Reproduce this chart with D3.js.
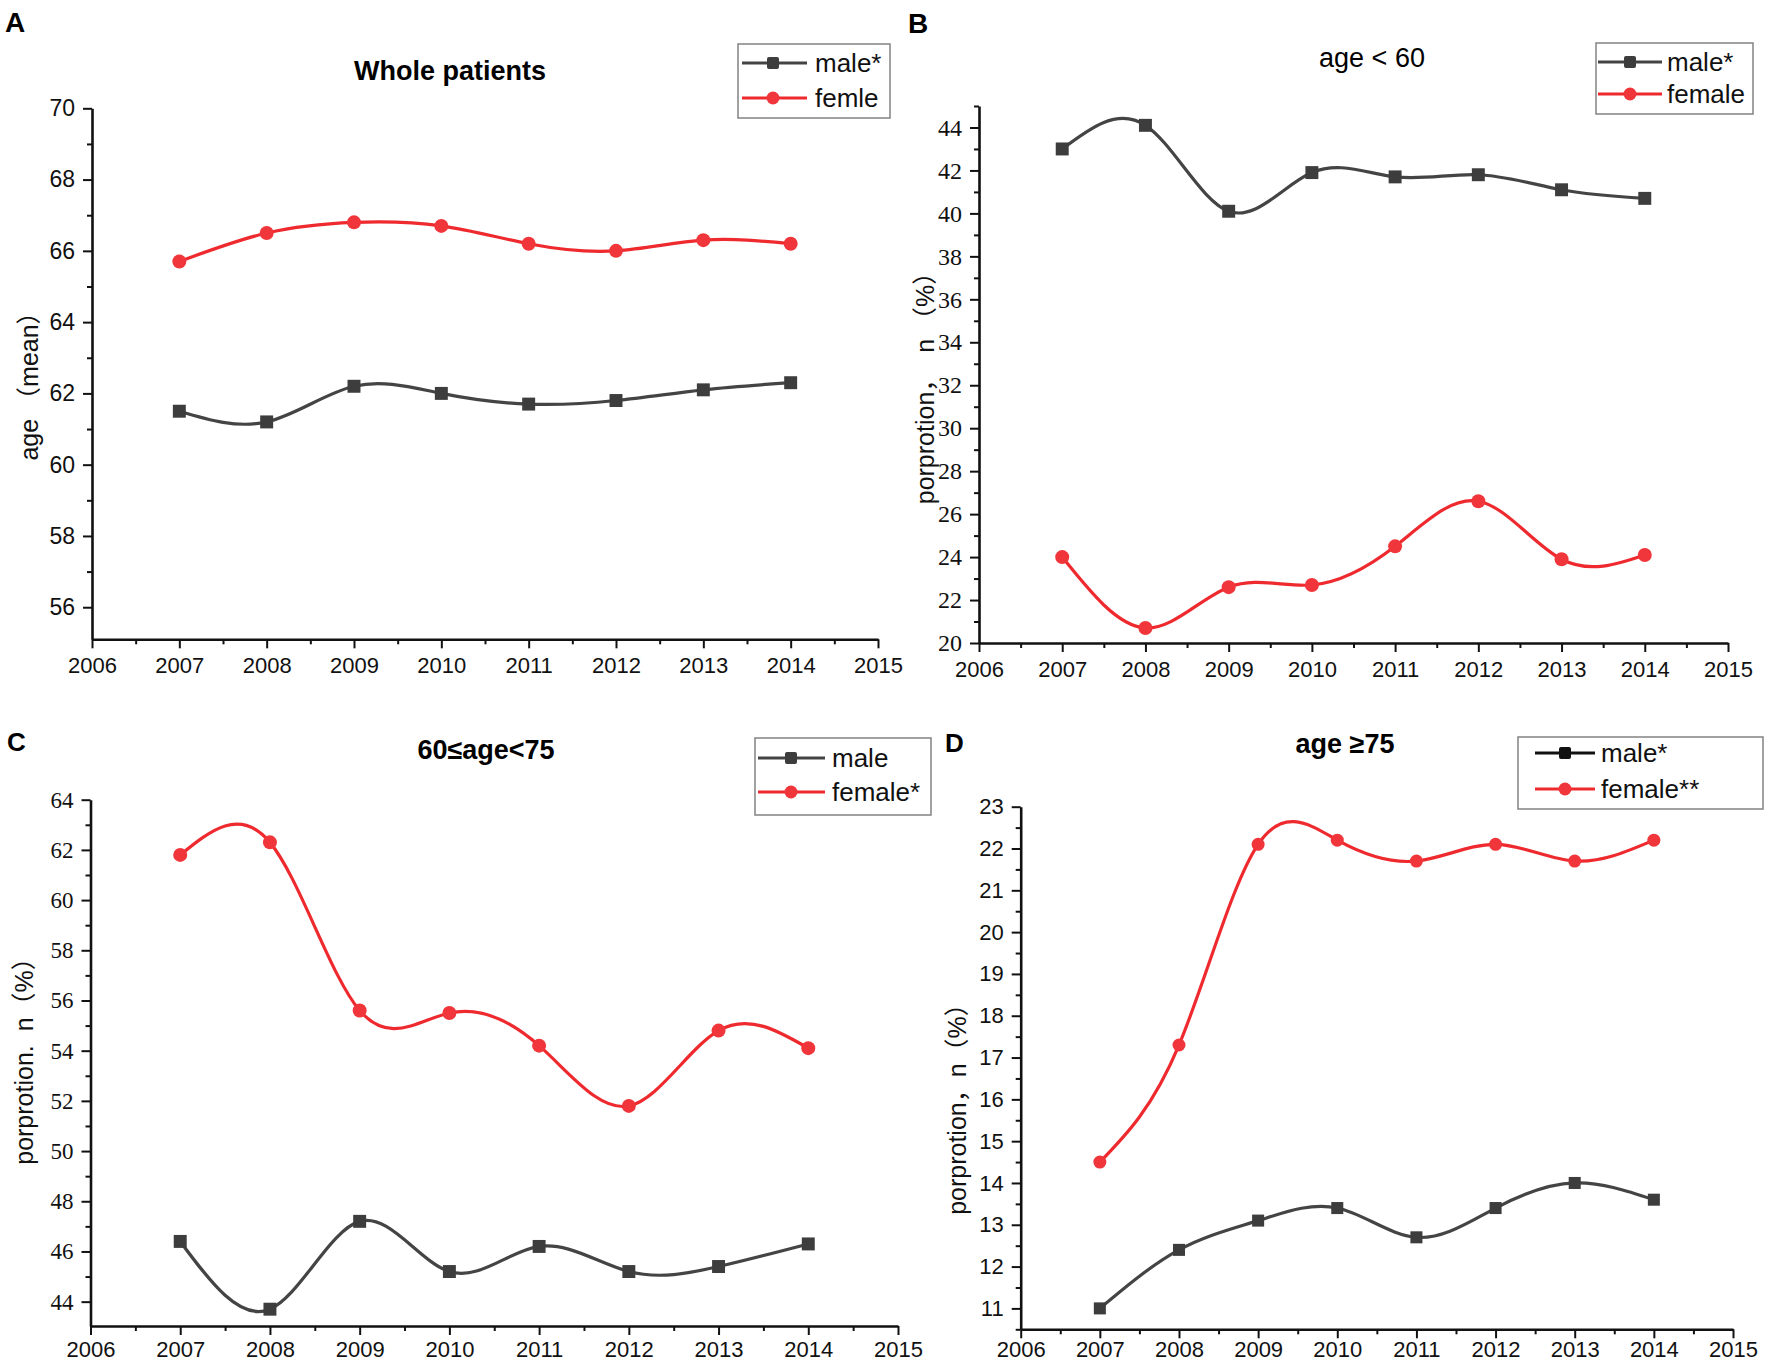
<!DOCTYPE html>
<html>
<head>
<meta charset="utf-8">
<script src="https://cdn.jsdelivr.net/npm/d3@7"></script>
<style>
  body { margin: 0; background: #fff; }
  svg text { white-space: pre; }
</style>
</head>
<body>
<svg id="fig" width="1772" height="1366"></svg>
<script>
// ---- data ----
const years = [2007, 2008, 2009, 2010, 2011, 2012, 2013, 2014];
const xTickYears = [2006, 2007, 2008, 2009, 2010, 2011, 2012, 2013, 2014, 2015];

const aMale = [61.5, 61.2, 62.2, 62.0, 61.7, 61.8, 62.1, 62.3];
const aFemale = [65.7, 66.5, 66.8, 66.7, 66.2, 66.0, 66.3, 66.2];
const aYTicks = [56, 58, 60, 62, 64, 66, 68, 70];

const bMale = [43.0, 44.1, 40.1, 41.9, 41.7, 41.8, 41.1, 40.7];
const bFemale = [24.0, 20.7, 22.6, 22.7, 24.5, 26.6, 23.9, 24.1];
const bYTicks = [20, 22, 24, 26, 28, 30, 32, 34, 36, 38, 40, 42, 44];

const cMale = [46.4, 43.7, 47.2, 45.2, 46.2, 45.2, 45.4, 46.3];
const cFemale = [61.8, 62.3, 55.6, 55.5, 54.2, 51.8, 54.8, 54.1];
const cYTicks = [44, 46, 48, 50, 52, 54, 56, 58, 60, 62, 64];

const dMale = [11.0, 12.4, 13.1, 13.4, 12.7, 13.4, 14.0, 13.6];
const dFemale = [14.5, 17.3, 22.1, 22.2, 21.7, 22.1, 21.7, 22.2];
const dYTicks = [11, 12, 13, 14, 15, 16, 17, 18, 19, 20, 21, 22, 23];

// ---- styles ----
const SANS = "'Liberation Sans', Arial, 'Noto Sans CJK SC', sans-serif";
const SERIF = "'Liberation Serif', 'Times New Roman', serif";
const MALE_COL = "#444444";
const FEMALE_COL = "#ee2a2f";

// layout of each panel (positions only, values come from the arrays above)
const panels = [
  {
    letter: "A", letterPos: [5, 32], letterSize: 28,
    title: "Whole patients", titleBold: true, titlePos: [450, 80],
    xRange: [92, 878], yDomain: [55.1, 70], yRange: [639.3, 108.3], xPad: 9,
    yTicks: aYTicks, yMinor: 1, yFont: SANS, yFontSize: 23,
    yTitle: "age （mean）", yTitlePos: [29, 380],
    male: aMale, female: aFemale, markR: 7,
    legend: { box: [738, 44, 152, 74], rows: [63, 98], line: [742, 807], mark: 773, textX: 815,
              labels: ["male*", "femle"], maleCol: MALE_COL }
  },
  {
    letter: "B", letterPos: [908, 33], letterSize: 28,
    title: "age < 60", titleBold: false, titlePos: [1372, 67],
    xRange: [979, 1728], yDomain: [20, 45], yRange: [643, 106], xPad: 9,
    yTicks: bYTicks, yMinor: 1, yFont: SERIF, yFontSize: 24,
    yTitle: "porprotion，  n （%）", yTitlePos: [925, 382],
    male: bMale, female: bFemale, markR: 7,
    legend: { box: [1596, 43, 157, 71], rows: [62, 94], line: [1598, 1662], mark: 1630, textX: 1667,
              labels: ["male*", "female"], maleCol: MALE_COL }
  },
  {
    letter: "C", letterPos: [7, 751], letterSize: 26,
    title: "60≤age<75", titleBold: true, titlePos: [486, 759],
    xRange: [90.5, 898], yDomain: [43.03, 64], yRange: [1326, 799.7], xPad: 6,
    yTicks: cYTicks, yMinor: 1, yFont: SERIF, yFontSize: 23,
    yTitle: "porprotion.  n（%）", yTitlePos: [24, 1055],
    male: cMale, female: cFemale, markR: 7,
    legend: { box: [755, 738, 176, 77], rows: [758, 792], line: [758, 825], mark: 791, textX: 832,
              labels: ["male", "female*"], maleCol: MALE_COL }
  },
  {
    letter: "D", letterPos: [945, 752], letterSize: 26,
    title: "age ≥75", titleBold: true, titlePos: [1345, 753],
    xRange: [1020.7, 1733], yDomain: [10.5, 23], yRange: [1329.3, 806.7], xPad: 3,
    yTicks: dYTicks, yMinor: 0.5, yFont: SANS, yFontSize: 22,
    yTitle: "porprotion，n（%）", yTitlePos: [957, 1103],
    male: dMale, female: dFemale, markR: 6.5,
    legend: { box: [1518, 737, 245, 72], rows: [753, 789], line: [1535, 1595], mark: 1565, textX: 1601,
              labels: ["male*", "female**"], maleCol: "#111111" }
  }
];

const svg = d3.select("#fig");

function drawPanel(p) {
  const g = svg.append("g");
  const x = d3.scaleLinear().domain([2006, 2015]).range(p.xRange);
  const y = d3.scaleLinear().domain(p.yDomain).range(p.yRange);
  const xAxisY = p.yRange[0];
  const yAxisX = p.xRange[0];

  // minor ticks
  const yMinorVals = d3.range(Math.ceil(p.yDomain[0] / p.yMinor) * p.yMinor, p.yDomain[1] + 1e-6, p.yMinor)
    .filter(v => !p.yTicks.some(t => Math.abs(t - v) < 1e-6));
  const xMinorVals = d3.range(2006.5, 2015, 1);

  const xMinor = g.append("g")
    .attr("transform", `translate(0,${xAxisY})`)
    .call(d3.axisBottom(x).tickValues(xMinorVals).tickSize(5).tickFormat(""));
  xMinor.select(".domain").remove();

  const yMinor = g.append("g")
    .attr("transform", `translate(${yAxisX},0)`)
    .call(d3.axisLeft(y).tickValues(yMinorVals).tickSize(5).tickFormat(""));
  yMinor.select(".domain").remove();

  // major axes
  const xAx = g.append("g")
    .attr("transform", `translate(0,${xAxisY})`)
    .call(d3.axisBottom(x).tickValues(xTickYears).tickSize(9).tickPadding(p.xPad).tickSizeOuter(0).tickFormat(d3.format("d")));
  xAx.selectAll("text").attr("font-family", SANS).attr("font-size", 22).attr("fill", "#111");

  const yAx = g.append("g")
    .attr("transform", `translate(${yAxisX},0)`)
    .call(d3.axisLeft(y).tickValues(p.yTicks).tickSize(9).tickPadding(8).tickSizeOuter(0).tickFormat(d3.format("d")));
  yAx.selectAll("text").attr("font-family", p.yFont).attr("font-size", p.yFontSize).attr("fill", "#111");

  g.selectAll(".domain").attr("stroke", "#111").attr("stroke-width", 2.6);
  g.selectAll(".tick line").attr("stroke", "#111").attr("stroke-width", 2);

  // panel letter
  svg.append("text")
    .attr("x", p.letterPos[0]).attr("y", p.letterPos[1])
    .attr("font-family", SANS).attr("font-weight", "bold").attr("font-size", p.letterSize)
    .text(p.letter);

  // title
  svg.append("text")
    .attr("x", p.titlePos[0]).attr("y", p.titlePos[1])
    .attr("text-anchor", "middle")
    .attr("font-family", SANS).attr("font-size", 27)
    .attr("font-weight", p.titleBold ? "bold" : "normal")
    .text(p.title);

  // y title
  svg.append("text")
    .attr("transform", `translate(${p.yTitlePos[0]},${p.yTitlePos[1]}) rotate(-90)`)
    .attr("text-anchor", "middle")
    .attr("dominant-baseline", "central")
    .attr("font-family", SANS).attr("font-size", 25).attr("fill", "#111")
    .text(p.yTitle);

  // series
  const line = d3.line()
    .x((d, i) => x(years[i]))
    .y(d => y(d))
    .curve(d3.curveNatural);

  g.append("path").datum(p.male)
    .attr("d", line).attr("fill", "none")
    .attr("stroke", MALE_COL).attr("stroke-width", 3.2);
  g.append("path").datum(p.female)
    .attr("d", line).attr("fill", "none")
    .attr("stroke", FEMALE_COL).attr("stroke-width", 3.2);

  const s = p.markR * 1.85;
  g.selectAll(".sq").data(p.male).join("rect")
    .attr("x", (d, i) => x(years[i]) - s / 2)
    .attr("y", d => y(d) - s / 2)
    .attr("width", s).attr("height", s)
    .attr("fill", "#3d3d3d");
  g.selectAll(".ci").data(p.female).join("circle")
    .attr("cx", (d, i) => x(years[i]))
    .attr("cy", d => y(d))
    .attr("r", p.markR)
    .attr("fill", "#f0363b");

  // legend
  const L = p.legend;
  svg.append("rect")
    .attr("x", L.box[0]).attr("y", L.box[1])
    .attr("width", L.box[2]).attr("height", L.box[3])
    .attr("fill", "#fff").attr("stroke", "#8a8a8a").attr("stroke-width", 1.6);

  const cols = [L.maleCol, FEMALE_COL];
  L.labels.forEach((lab, i) => {
    const ry = L.rows[i];
    svg.append("line")
      .attr("x1", L.line[0]).attr("x2", L.line[1])
      .attr("y1", ry).attr("y2", ry)
      .attr("stroke", cols[i]).attr("stroke-width", 3.2);
    if (i === 0) {
      svg.append("rect")
        .attr("x", L.mark - 6).attr("y", ry - 6)
        .attr("width", 12).attr("height", 12).attr("rx", 2)
        .attr("fill", L.maleCol === MALE_COL ? "#3d3d3d" : L.maleCol);
    } else {
      svg.append("circle")
        .attr("cx", L.mark).attr("cy", ry).attr("r", 6.5)
        .attr("fill", "#f0363b");
    }
    svg.append("text")
      .attr("x", L.textX).attr("y", ry)
      .attr("dominant-baseline", "central")
      .attr("font-family", SANS).attr("font-size", 26).attr("fill", "#111")
      .text(lab);
  });
}

panels.forEach(drawPanel);
</script>
</body>
</html>
